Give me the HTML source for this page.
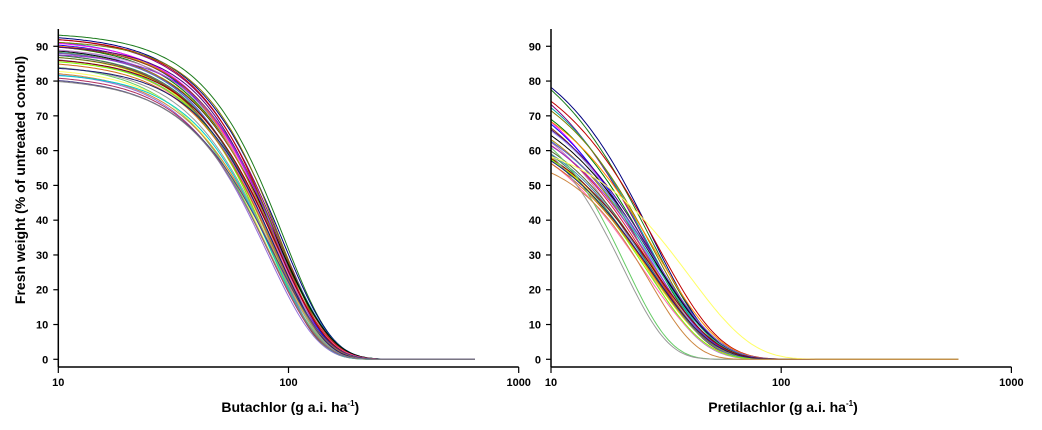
<!DOCTYPE html>
<html><head><meta charset="utf-8"><style>
body{margin:0;background:#fff;}
svg{display:block;font-family:"Liberation Sans",Arial,sans-serif;}
</style></head><body>
<svg id="c" width="1042" height="430" viewBox="0 0 1042 430"></svg>
<script>
// Left panel (Butachlor) Weibull curve parameters: top d, scale e, shape b
const butaTop=[94,93.5,93,92.8,92.5,92,91.8,91.5,91.2,91,90.8,90.5,90.2,90,89.8,89.5,89.2,89,88.8,88.5,88.2,88,87.8,87.5,87.2,87,86.5,86,85.5,85,84.5,84,83.5,83,82.5,82,81.5,81];
const butaScale=[96,94,92,90,91,89,93,88,90,87,92,89,85,91,88,86,90,84,89,87,91,85,83,88,86,90,84,87,82,85,89,83,86,81,85,83,87,84];
const butaShape=[2.1,2,2,2.1,1.9,2,2.2,2,1.9,2.1,2,2.2,2,1.9,2.1,2,2,2.1,1.9,2,2.2,2,2.1,1.9,2,2,2.1,2,1.9,2,2.1,2,1.9,2,2.1,2,1.9,2];
// Right panel (Pretilachlor)
const pretiTop=[95,93,91,89,87,86,85,84,83,82,81,80,79,78,77,76,76,75,74,73,73,72,72,71,71,70,70,69,74,72,70,65,60];
const pretiScale=[27,28,26,29,27,25,28,26,27,29,26,28,27,28,25,28,27,29,27,26,28,26,27,25,27,28,26,27,21,20.5,27,40,27];
const pretiShape=[1.6,1.7,1.6,1.6,1.7,1.6,1.7,1.6,1.7,1.6,1.7,1.6,1.7,1.6,1.7,1.6,1.7,1.6,1.7,1.6,1.7,1.6,1.7,1.6,1.7,1.6,1.7,1.6,2.2,2.2,1.6,1.6,2.2];
const colors=["#1a7a1a","#000080","#800080","#c00000","#00a0a0","#ff00ff","#808000","#0000ff","#008000","#ff8c00","#8b4513","#4b0082","#a0a0ff","#000","#c080c0","#20b2aa","#b8860b","#6a5acd","#dc143c","#2e8b57","#9932cc","#ffd700","#556b2f","#ff69b4","#4682b4","#8b0000","#7fff00","#d2691e","#66cc66","#999","#191970","#ffff66","#cd853f","#9370db","#00ced1","#b03060","#483d8b","#808080"];
const yTicks=[0,10,20,30,40,50,60,70,80,90];
const xTicks=[10,100,1000];
const NS="http://www.w3.org/2000/svg";
const svg=document.getElementById('c');
function mk(t,a,p){const e=document.createElementNS(NS,t);for(const k in a)e.setAttribute(k,a[k]);(p||svg).appendChild(e);return e;}
function yS(v){return 359.3-v*3.478;}
function panel(x0,tops,scales,shapes,xMax,title,nm){
  const g=mk('g',{});
  
  
  const xS=v=>x0+(Math.log10(v)-1)*230.2;
  for(let i=0;i<tops.length;i++){
    let d='';
    for(let lx=1;lx<=Math.log10(xMax)+1e-9;lx+=0.01){
      const x=Math.pow(10,lx);
      const y=tops[i]*Math.exp(-Math.pow(x/scales[i],shapes[i]));
      d+=(d?'L':'M')+xS(x).toFixed(1)+','+yS(y).toFixed(1);
    }
    const p=mk('path',{d:d,fill:'none',stroke:colors[i%colors.length],'stroke-width':1},g);
    
    
  }
  const ya=mk('line',{x1:x0,y1:29,x2:x0,y2:367,stroke:'#000','stroke-width':1.5},g);
  
  
  const xa=mk('line',{x1:x0,y1:367,x2:x0+460.4,y2:367,stroke:'#000','stroke-width':1.5},g);
  
  
  yTicks.forEach(v=>{
    mk('line',{x1:x0-5,y1:yS(v),x2:x0,y2:yS(v),stroke:'#000','stroke-width':1.2},g);
    const t=mk('text',{x:x0-10,y:yS(v)+4,'text-anchor':'end','font-size':11,'font-weight':'bold'},g);
    t.textContent=v;
    
    
  });
  xTicks.forEach(v=>{
    mk('line',{x1:xS(v),y1:367,x2:xS(v),y2:373,stroke:'#000','stroke-width':1.2},g);
    const t=mk('text',{x:xS(v),y:386,'text-anchor':'middle','font-size':11,'font-weight':'bold'},g);
    t.textContent=v;
    
    
  });
  const t=mk('text',{x:x0+232,y:412,'text-anchor':'middle','font-size':14,'font-weight':'bold'},g);
  t.innerHTML=title+' (g a.i. ha<tspan dy="-6" font-size="8">-1</tspan><tspan dy="6">)</tspan>';
  
  
}
panel(58.3,butaTop,butaScale,butaShape,660,'Butachlor','butachlor');
panel(551,pretiTop,pretiScale,pretiShape,590,'Pretilachlor','pretilachlor');
const yt=mk('text',{x:0,y:0,transform:'translate(25,180) rotate(-90)','text-anchor':'middle','font-size':14,'font-weight':'bold'});
yt.textContent='Fresh weight (% of untreated control)';


</script>
</body></html>
